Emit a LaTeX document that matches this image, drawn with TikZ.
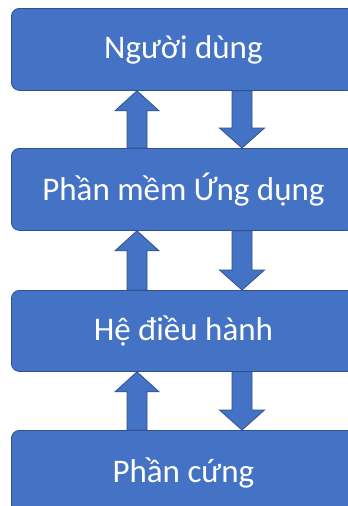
\documentclass[tikz,border=0pt]{standalone}
\usepackage{fontspec}
\setmainfont{Carlito}
\usetikzlibrary{calc}
\definecolor{boxfill}{HTML}{4472C4}
\definecolor{boxline}{HTML}{2F528F}
\tikzset{
  layer/.style={draw=boxline, line width=0.8pt, fill=boxfill, rounded corners=8pt,
    text=white, font=\fontsize{33}{39}\selectfont, inner sep=0pt, anchor=north west},
  blockarrow/.style={draw=boxline, line width=0.8pt, fill=boxfill, line join=miter}
}
% upward block arrow from the top of #1 to the bottom of #2, centred at x=#3
\newcommand\upblock[3]{%
  \path[blockarrow] let \p1=(#1.north), \p2=(#2.south) in
    (#3-10pt,\y1) -- (#3-10pt,\y2-20pt) -- (#3-22pt,\y2-20pt) -- (#3,\y2)
    -- (#3+22pt,\y2-20pt) -- (#3+10pt,\y2-20pt) -- (#3+10pt,\y1) -- cycle;}
% downward block arrow from the bottom of #1 to the top of #2, centred at x=#3
\newcommand\downblock[3]{%
  \path[blockarrow] let \p1=(#1.south), \p2=(#2.north) in
    (#3-10pt,\y1) -- (#3-10pt,\y2+20pt) -- (#3-22.5pt,\y2+20pt) -- (#3,\y2)
    -- (#3+22.5pt,\y2+20pt) -- (#3+10pt,\y2+20pt) -- (#3+10pt,\y1) -- cycle;}
\begin{document}
\begin{tikzpicture}[x=1pt,y=1pt]
\useasboundingbox (0,0) rectangle (348,-506);
\clip (0,0) rectangle (348,-506);
\fill[white] (0,0) rectangle (348,-506);

\node[layer, minimum width=344pt, minimum height=82pt] (user) at (11,-8) {Người dùng};
\node[layer, minimum width=344pt, minimum height=82pt] (app)  at (11,-148) {Phần mềm Ứng dụng};
\node[layer, minimum width=344pt, minimum height=81pt] (os)   at (11,-290) {Hệ điều hành};
\node[layer, minimum width=344pt, minimum height=85pt] (hw)   at (11,-430) {Phần cứng};

\upblock{app}{user}{137}
\downblock{user}{app}{242}
\upblock{os}{app}{137}
\downblock{app}{os}{242}
\upblock{hw}{os}{137}
\downblock{os}{hw}{242}
\end{tikzpicture}
\end{document}
